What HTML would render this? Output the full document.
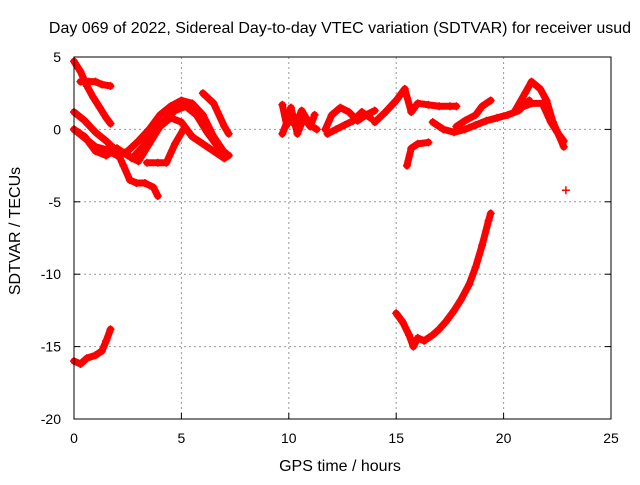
<!DOCTYPE html>
<html><head><meta charset="utf-8"><style>
body{margin:0;background:#fff}
svg{font-family:"Liberation Sans",sans-serif;font-size:14px}
.ttl{font-size:16px}
</style></head><body>
<svg id="chart" width="640" height="480">
<text class="ttl" x="340" y="33" text-anchor="middle">Day 069 of 2022, Sidereal Day-to-day VTEC variation (SDTVAR) for receiver usud</text>
<text class="ttl" x="340" y="471" text-anchor="middle">GPS time / hours</text>
<text class="ttl" transform="translate(20,231) rotate(-90)" text-anchor="middle">SDTVAR / TECUs</text>
<g id="grid"></g><g id="ticks"></g><g id="marks"></g>
<rect x="74" y="57" width="537" height="362" fill="none" stroke="#000" stroke-width="1"/>
</svg>
<script>
const xTicks=[0,5,10,15,20,25];
const yTicks=[5,0,-5,-10,-15,-20];
const s1=[[0,4.7],[0.3,4.0],[0.6,3.0],[0.9,2.2],[1.2,1.5],[1.5,0.8],[1.7,0.4]];
const s2=[[0.3,3.3],[0.7,3.3],[1.0,3.3],[1.3,3.1],[1.7,3.0]];
const s3=[[0,1.2],[0.5,0.6],[1.0,-0.2],[1.5,-0.8],[2.0,-1.5],[2.3,-2.5],[2.6,-3.5],[2.9,-3.7],[3.3,-3.7],[3.7,-4.0],[3.9,-4.6]];
const s4=[[0,0],[0.5,-0.6],[1.0,-1.2],[1.5,-1.4],[2.0,-1.8],[2.5,-1.5],[3.0,-0.8],[3.5,0.0],[4.0,1.0],[4.5,1.6],[5.0,2.0],[5.5,1.8],[6.0,1.0],[6.5,-0.5],[7.0,-1.6],[7.2,-1.8]];
const s5=[[0,0],[0.5,-0.5],[1.0,-1.5],[1.5,-1.8],[2.0,-1.3],[2.5,-1.8],[3.0,-2.2],[3.5,-1.0],[4.0,0.2],[4.5,0.8],[5.0,0.5],[5.5,-0.5],[6.0,-1.0],[6.5,-1.5],[7.0,-2.0],[7.2,-1.8]];
const s6=[[2.7,-2.0],[3.2,-1.2],[3.7,-0.3],[4.2,0.6],[4.7,1.3],[5.2,1.6],[5.7,1.0],[6.2,-0.2],[6.7,-1.2],[7.2,-1.8]];
const s7=[[6.0,2.5],[6.5,1.8],[7.0,0.2],[7.2,-0.3]];
const s8=[[3.4,-2.3],[3.9,-2.3],[4.3,-2.3],[4.7,-1.0],[5.1,0.0]];
const s9=[[0,-16],[0.3,-16.2],[0.6,-15.8],[1.0,-15.6],[1.3,-15.3],[1.5,-14.6],[1.7,-13.8]];
const s10=[[9.7,1.7],[9.9,0.3],[10.1,1.5],[10.4,-0.3],[10.7,0.8],[11.0,0.2],[11.2,1.0]];
const s11=[[9.7,-0.3],[10.0,0.8],[10.3,0.3],[10.6,1.3],[11.0,0.3],[11.3,0.0]];
const s12=[[11.7,0.0],[12.0,1.0],[12.4,1.5],[12.8,1.2],[13.2,0.6],[13.6,1.0],[14.0,1.3]];
const s13=[[11.8,-0.3],[12.2,0.0],[12.6,0.3],[13.0,0.6],[13.4,1.2],[13.8,0.8]];
const s14=[[14.0,0.5],[14.5,1.2],[15.0,2.0],[15.4,2.8],[15.7,1.2],[16.0,1.8],[16.5,1.7],[17.0,1.6],[17.5,1.6],[17.8,1.6]];
const s15=[[15.5,-2.5],[15.7,-1.3],[16.0,-1.0],[16.5,-0.9]];
const s16=[[16.7,0.5],[17.2,0.0],[17.7,-0.2],[18.2,0.0],[18.7,0.3],[19.2,0.6],[19.7,0.8],[20.2,1.0],[20.7,1.3],[21.2,2.0]];
const s17=[[17.8,0.2],[18.2,0.6],[18.7,1.0],[19.0,1.6],[19.4,2.0]];
const s18=[[20.5,1.2],[21.0,2.5],[21.3,3.3],[21.7,2.8],[22.0,2.0],[22.3,0.5],[22.6,-0.5],[22.8,-1.2]];
const s19=[[20.8,1.5],[21.3,1.8],[21.8,1.8],[22.2,0.5],[22.5,-0.2],[22.8,-0.8]];
const s20=[[22.9,-4.2]];
const s21=[[15.0,-12.7],[15.3,-13.3],[15.6,-14.2],[15.8,-15.0],[16.0,-14.4],[16.3,-14.6],[16.7,-14.2],[17.0,-13.8],[17.3,-13.3],[17.7,-12.5],[18.0,-11.8],[18.4,-10.7],[18.7,-9.5],[19.0,-8.0],[19.3,-6.3],[19.4,-5.8]];
const seriesList=[s1,s2,s3,s4,s5,s6,s7,s8,s9,s10,s11,s12,s13,s14,s15,s16,s17,s18,s19,s20,s21];

const NS="http://www.w3.org/2000/svg";
const X=h=>74+h*537/25;
const Y=v=>57+(5-v)*362/25;
function mk(tag,attrs,parent){const e=document.createElementNS(NS,tag);for(const k in attrs)e.setAttribute(k,attrs[k]);parent.appendChild(e);return e;}
const grid=document.getElementById('grid'),ticks=document.getElementById('ticks'),marks=document.getElementById('marks');
xTicks.forEach(t=>{
  if(t>0&&t<25){const g=mk('line',{x1:X(t),x2:X(t),y1:57,y2:419,stroke:'#999','stroke-dasharray':'2,3'},grid);
  
  }
  mk('line',{x1:X(t),x2:X(t),y1:419,y2:413,stroke:'#000'},ticks);
  const l=mk('text',{x:X(t),y:443,'text-anchor':'middle'},ticks);l.textContent=t;
  
  
});
yTicks.forEach(t=>{
  if(t<5&&t>-20){const g=mk('line',{x1:74,x2:611,y1:Y(t),y2:Y(t),stroke:'#999','stroke-dasharray':'2,3'},grid);
  
  }
  mk('line',{x1:74,x2:80,y1:Y(t),y2:Y(t),stroke:'#000'},ticks);
  mk('line',{x1:605,x2:611,y1:Y(t),y2:Y(t),stroke:'#000'},ticks);
  const l=mk('text',{x:61,y:Y(t)+5,'text-anchor':'end'},ticks);l.textContent=t;
  
  
});
seriesList.forEach((s,i)=>{
  const g=mk('g',{},marks);
  
  
  if(s.length>1){mk('polyline',{points:s.map(p=>X(p[0])+','+Y(p[1])).join(' '),fill:'none',stroke:'#f00','stroke-width':7,'stroke-linejoin':'round','stroke-linecap':'round'},g);}
  s.forEach(p=>{const x=X(p[0]),y=Y(p[1]);
    const m=mk('path',{d:`M${x-4},${y}H${x+4}M${x},${y-4}V${y+4}`,stroke:'#f00','stroke-width':1.5},g);
    
    });
});
</script>
</body></html>
